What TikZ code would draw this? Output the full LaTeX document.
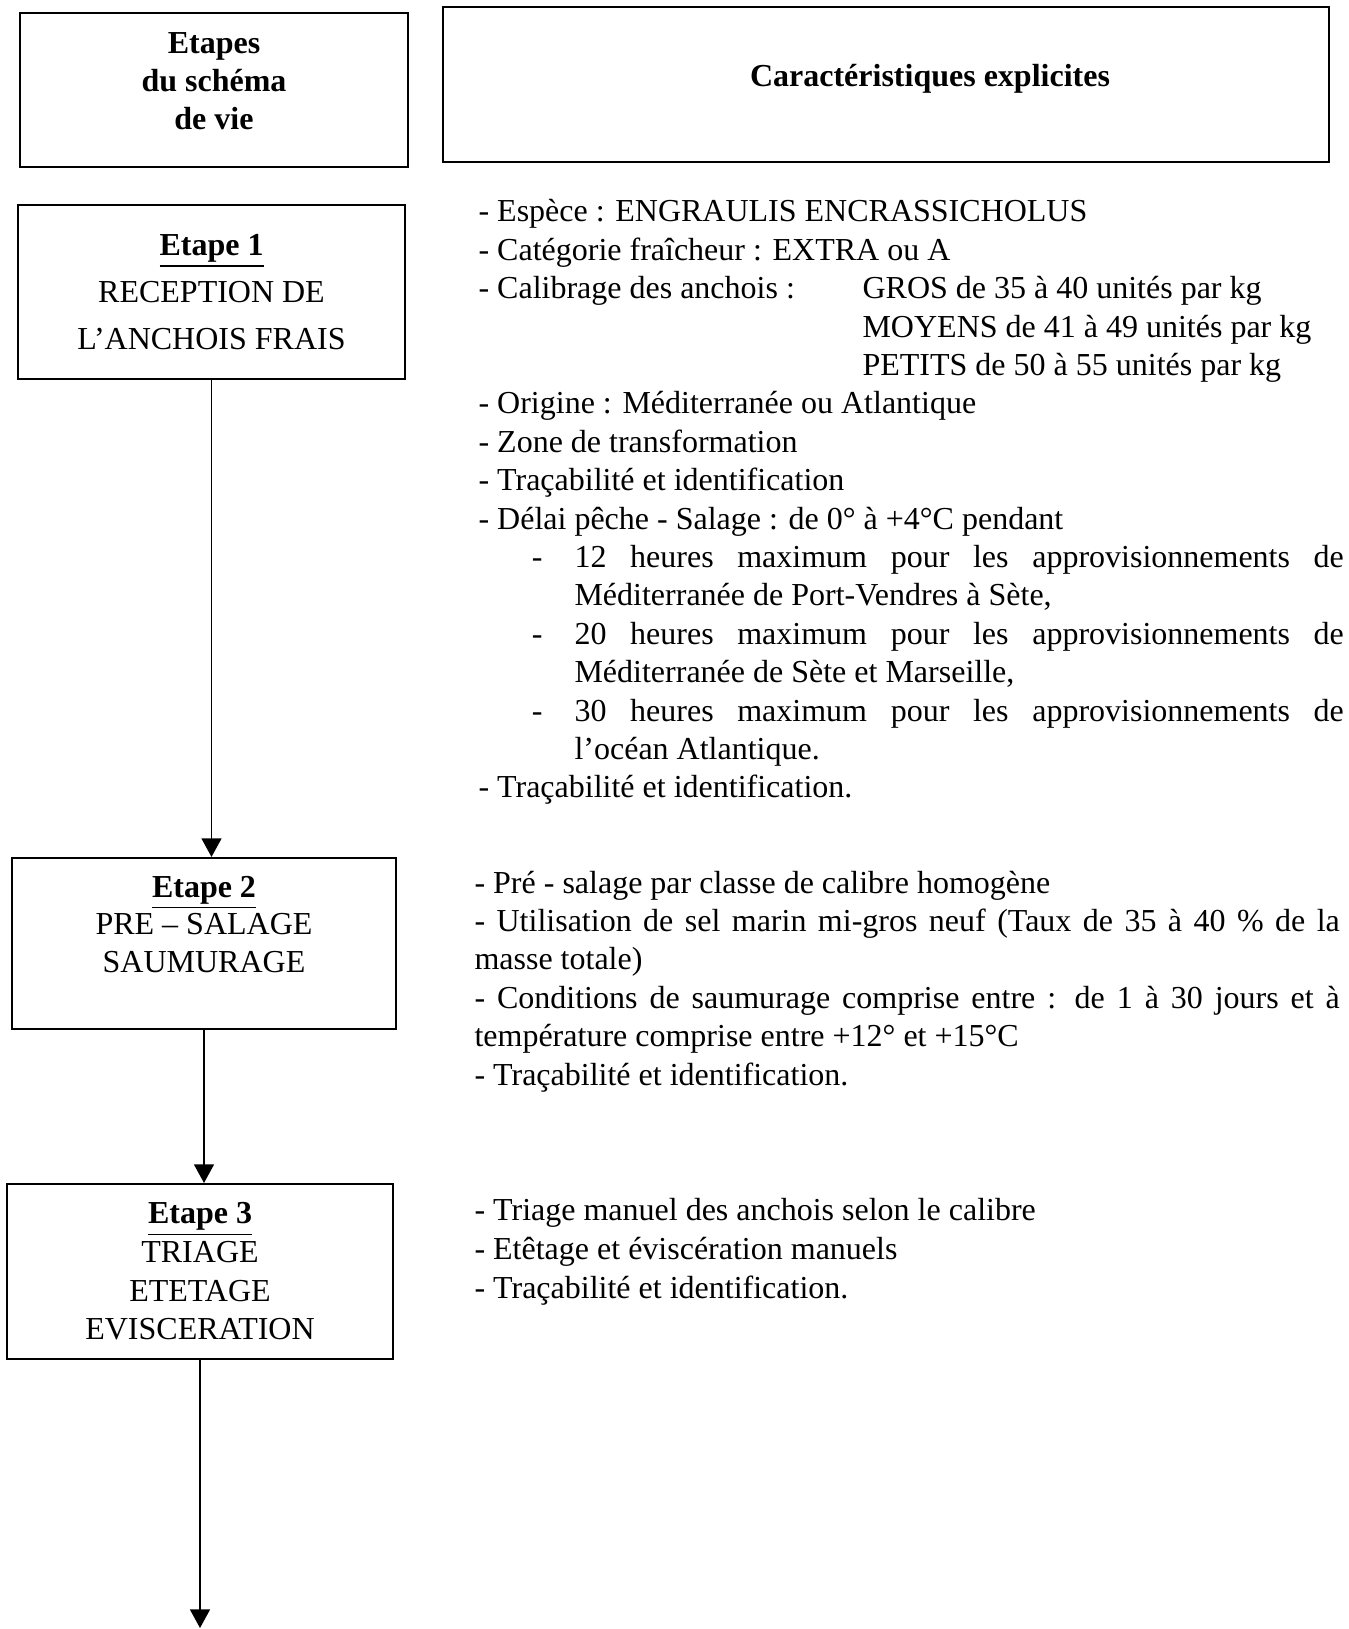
\documentclass[tikz,border=0pt]{standalone}
\usepackage{fontspec}
\setmainfont{Liberation Serif}
\usepackage{tikz}
\usetikzlibrary{positioning, arrows.meta}

\tikzset{
	box/.style={draw, line width=0.8pt, rectangle, inner sep=0pt, align=center},
	desc/.style={anchor=base west, inner sep=0pt, align=justify, text width=324.5pt, font=\fontsize{12}{14.4}\selectfont},
	flow/.style={line width=0.6pt, -{Triangle[length=7pt,width=7.5pt]}}
}
\newcommand{\etape}[1]{\underline{\textbf{Etape #1}}}
\newcommand{\sousitem}[1]{{\leftskip=36pt \leavevmode\llap{\makebox[16pt][l]{-}}#1\par}}

\begin{document}
\begin{tikzpicture}[x=0.375pt, y=-0.375pt]
			\useasboundingbox (0,0) rectangle (1348,1629);
			
			\node[box, minimum width=145.5pt, minimum height=57.75pt, font=\bfseries\fontsize{12}{14.25}\selectfont] (hdrL) at (214,90) {Etapes\\du schéma\\de vie\\[-12pt]\strut};
			\node[box, minimum width=332.25pt, minimum height=58.1pt, font=\bfseries\fontsize{12}{14.4}\selectfont] (hdrR) at (886,84.5) {\hspace*{33pt}Caractéristiques explicites\\[-12pt]\strut};
			
			\node[box, minimum width=145.1pt, minimum height=65.25pt, font=\fontsize{12}{17.6}\selectfont] (e1) at (211.5,292) {\etape{1}\\RECEPTION DE\\L’ANCHOIS FRAIS};
			\node[box, minimum width=144pt, minimum height=64.1pt, font=\fontsize{12}{14.1}\selectfont] (e2) at (204,943.5) {\etape{2}\\PRE – SALAGE\\SAUMURAGE\\[-4pt]\strut};
			\node[box, minimum width=144.75pt, minimum height=65.6pt, font=\fontsize{12}{14.5}\selectfont] (e3) at (200,1271.5) {\etape{3}\\TRIAGE\\ETETAGE\\EVISCERATION};
			\coordinate (fin) at (200,1628);
			
			\draw[flow] (e1.south) -- (e1.south |- e2.north);
			\draw[flow] (e2.south) -- (e2.south |- e3.north);
			\draw[flow] (e3.south) -- (fin);
			
			\node[desc] (d1) at (478,222) {%
				- Espèce : ENGRAULIS ENCRASSICHOLUS\par
				- Catégorie fraîcheur : EXTRA ou A\par
				\makebox[144pt][l]{- Calibrage des anchois :}GROS de 35 à 40 unités par kg\par
				\hspace*{144pt}MOYENS de 41 à 49 unités par kg\par
				\hspace*{144pt}PETITS de 50 à 55 unités par kg\par
				- Origine : Méditerranée ou Atlantique\par
				- Zone de transformation\par
				- Traçabilité et identification\par
				- Délai pêche - Salage : de 0° à +4°C pendant\par
				\sousitem{12 heures maximum pour les approvisionnements de\linebreak Méditerranée de Port-Vendres à Sète,}
				\sousitem{20 heures maximum pour les approvisionnements de\linebreak Méditerranée de Sète et Marseille,}
				\sousitem{30 heures maximum pour les approvisionnements de\linebreak l’océan Atlantique.}
				- Traçabilité et identification.};
			\node[desc] (d2) at (474,893) {%
				- Pré - salage par classe de calibre homogène\par
				- Utilisation de sel marin mi-gros neuf (Taux de 35 à 40~\% de la\linebreak masse totale)\par
				- Conditions de saumurage comprise entre : de 1 à 30 jours et à\linebreak température comprise entre +12° et +15°C\par
				- Traçabilité et identification.};
			\node[desc, font=\fontsize{12}{14.8}\selectfont] (d3) at (474,1220) {%
				- Triage manuel des anchois selon le calibre\par
				- Etêtage et éviscération manuels\par
				- Traçabilité et identification.};
		\end{tikzpicture}
\end{document}
